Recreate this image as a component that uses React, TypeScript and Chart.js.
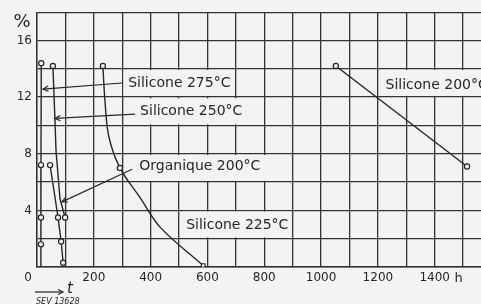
import { useEffect, useRef } from 'react';
import { Chart, registerables } from 'chart.js';

Chart.register(...registerables);

// ---------- data ----------
const X_MIN = 0;
const X_MAX = 1563;
const Y_MIN = 0;
const Y_MAX = 18;
const X_STEP = 100;
const Y_STEP = 2;
const xTickLabels = [200, 400, 600, 800, 1000, 1200, 1400];
const yTickLabels = [4, 8, 12, 16];

const s275Hours = [15, 14, 14, 14, 13];
const s275Values = [14.4, 7.2, 3.5, 1.6, 0];
const s275Marked = [true, true, true, true, false];

const s250Hours = [56, 63, 67, 81, 99];
const s250Values = [14.2, 10.5, 8.2, 4.8, 3.5];
const s250Marked = [true, false, false, false, true];

const orgHours = [46, 74, 85, 92];
const orgValues = [7.2, 3.5, 1.8, 0.3];
const orgMarked = [true, true, true, true];

const s225Hours = [232, 239, 253, 292, 363, 434, 585];
const s225Values = [14.2, 11.8, 9.2, 7.0, 4.9, 2.8, 0.1];
const s225Marked = [true, false, false, true, false, false, true];

const s200Hours = [1052, 1514];
const s200Values = [14.2, 7.1];
const s200Marked = [true, true];

// annotation labels (text left edge in h, text middle in %)
const labelTexts = ['Silicone 275°C', 'Silicone 250°C', 'Organique 200°C', 'Silicone 225°C', 'Silicone 200°C'];
const labelHours = [321, 363, 360, 525, 1227];
const labelLevels = [12.95, 11.0, 7.1, 2.95, 12.8];
const boxFrom = [305, 349, 345, 510, 1210];
const boxTo = [690, 750, 890, 890, 1563];
const boxLow = [12, 10, 6, 2, 12];
const boxHigh = [14, 12, 8, 4, 14];

// leader arrows
const arrowFromH = [300, 345, 335];
const arrowFromV = [13.0, 10.8, 6.9];
const arrowToH = [21, 63, 88];
const arrowToV = [12.57, 10.5, 4.6];

// ---------- style ----------
const BG = '#f3f3f1';
const INK = '#262626';
const GRID = '#333333';
const FONT = '"DejaVu Sans", sans-serif';

function toPoints(h: number[], v: number[]) {
  return h.map((x, i) => ({ x, y: v[i] }));
}

function makeSet(h: number[], v: number[], marked: boolean[], squareLast = false) {
  return {
    data: toPoints(h, v),
    borderColor: INK,
    borderWidth: 1.4,
    backgroundColor: BG,
    pointBorderColor: INK,
    pointBackgroundColor: BG,
    pointBorderWidth: 1.2,
    pointRadius: marked.map((m) => (m ? 2.6 : 0)),
    pointStyle: marked.map((_, i) => (squareLast && i === marked.length - 1 ? 'rect' : 'circle')),
    fill: false,
    tension: 0,
  };
}

const decor = {
  id: 'decor',
  beforeDraw(chart: any) {
    const { ctx, width, height } = chart;
    ctx.save();
    ctx.fillStyle = BG;
    ctx.fillRect(0, 0, width, height);
    ctx.restore();
  },
  beforeDatasetsDraw(chart: any) {
    const { ctx } = chart;
    const xs = chart.scales.x;
    const ys = chart.scales.y;
    ctx.save();
    ctx.fillStyle = BG;
    for (let i = 0; i < labelTexts.length; i++) {
      const x1 = xs.getPixelForValue(boxFrom[i]);
      const x2 = Math.min(xs.getPixelForValue(boxTo[i]), chart.width);
      const y1 = ys.getPixelForValue(boxHigh[i]) + 1.2;
      const y2 = ys.getPixelForValue(boxLow[i]) - 1.2;
      ctx.fillRect(x1, y1, x2 - x1, y2 - y1);
    }
    ctx.restore();
  },
  afterDatasetsDraw(chart: any) {
    const { ctx, chartArea } = chart;
    const xs = chart.scales.x;
    const ys = chart.scales.y;
    ctx.save();
    // leader arrows
    ctx.strokeStyle = INK;
    ctx.lineWidth = 1.2;
    for (let i = 0; i < arrowFromH.length; i++) {
      const fx = xs.getPixelForValue(arrowFromH[i]);
      const fy = ys.getPixelForValue(arrowFromV[i]);
      const tx = xs.getPixelForValue(arrowToH[i]);
      const ty = ys.getPixelForValue(arrowToV[i]);
      ctx.beginPath();
      ctx.moveTo(fx, fy);
      ctx.lineTo(tx, ty);
      ctx.stroke();
      const ang = Math.atan2(fy - ty, fx - tx);
      const L = 6;
      ctx.beginPath();
      ctx.moveTo(tx + L * Math.cos(ang + 0.45), ty + L * Math.sin(ang + 0.45));
      ctx.lineTo(tx, ty);
      ctx.lineTo(tx + L * Math.cos(ang - 0.45), ty + L * Math.sin(ang - 0.45));
      ctx.stroke();
    }
    // labels
    ctx.fillStyle = INK;
    ctx.font = `14px ${FONT}`;
    ctx.textAlign = 'left';
    ctx.textBaseline = 'middle';
    for (let i = 0; i < labelTexts.length; i++) {
      ctx.fillText(labelTexts[i], xs.getPixelForValue(labelHours[i]), ys.getPixelForValue(labelLevels[i]));
    }
    // axis extras
    ctx.font = `18px ${FONT}`;
    ctx.textAlign = 'center';
    ctx.fillText('%', chartArea.left - 15, chartArea.top + 10);
    ctx.font = `12px ${FONT}`;
    ctx.fillText('0', chartArea.left - 9, chartArea.bottom + 11);
    ctx.font = `13px ${FONT}`;
    ctx.fillText('h', xs.getPixelForValue(1400) + 24, chartArea.bottom + 12);
    // time arrow and "t"
    const ax = chartArea.left - 2;
    const ay = chartArea.bottom + 25;
    ctx.lineWidth = 1.2;
    ctx.beginPath();
    ctx.moveTo(ax, ay);
    ctx.lineTo(ax + 28, ay);
    ctx.stroke();
    ctx.beginPath();
    ctx.moveTo(ax + 23, ay - 2.5);
    ctx.lineTo(ax + 28, ay);
    ctx.lineTo(ax + 23, ay + 2.5);
    ctx.stroke();
    ctx.font = `italic 15px ${FONT}`;
    ctx.fillText('t', ax + 35, ay - 3);
    ctx.font = `italic 8px ${FONT}`;
    ctx.textAlign = 'left';
    ctx.fillText('SEV 13628', ax + 1, ay + 10);
    ctx.restore();
  },
};

export default function App() {
  const ref = useRef<HTMLCanvasElement | null>(null);
  useEffect(() => {
    if (!ref.current) return;
    const chart = new Chart(ref.current, {
      type: 'line',
      data: {
        datasets: [
          makeSet(s275Hours, s275Values, s275Marked),
          makeSet(s250Hours, s250Values, s250Marked),
          makeSet(orgHours, orgValues, orgMarked),
          { ...makeSet(s225Hours, s225Values, s225Marked, true), tension: 0.35 },
          makeSet(s200Hours, s200Values, s200Marked),
        ] as any,
      },
      options: {
        animation: false,
        responsive: false,
        devicePixelRatio: 1,
        layout: { autoPadding: false, padding: { top: 11, left: 0, right: 0, bottom: 0 } },
        plugins: { legend: { display: false }, tooltip: { enabled: false } },
        scales: {
          x: {
            type: 'linear',
            min: X_MIN,
            max: X_MAX,
            afterFit: (s: any) => {
              s.height = 37;
            },
            grid: { color: GRID, lineWidth: 1.3, drawTicks: false },
            border: { color: GRID, width: 1.4 },
            ticks: {
              stepSize: X_STEP,
              includeBounds: false,
              autoSkip: false,
              maxRotation: 0,
              padding: 4,
              color: INK,
              font: { family: FONT, size: 12 },
              callback: (v: any) => (xTickLabels.includes(v) ? String(v) : ''),
            },
          },
          y: {
            type: 'linear',
            min: Y_MIN,
            max: Y_MAX,
            afterFit: (s: any) => {
              s.width = 37;
            },
            grid: { color: GRID, lineWidth: 1.3, drawTicks: false },
            border: { color: GRID, width: 1.4 },
            ticks: {
              stepSize: Y_STEP,
              includeBounds: false,
              autoSkip: false,
              padding: 5,
              color: INK,
              font: { family: FONT, size: 12 },
              callback: (v: any) => (yTickLabels.includes(v) ? String(v) : ''),
            },
          },
        },
      },
      plugins: [decor],
    } as any);
    return () => chart.destroy();
  }, []);
  return (
    <div style={{ position: 'fixed', left: 0, top: 0, width: 481, height: 304 }}>
      <canvas ref={ref} width={481} height={304} style={{ display: 'block' }} />
    </div>
  );
}
